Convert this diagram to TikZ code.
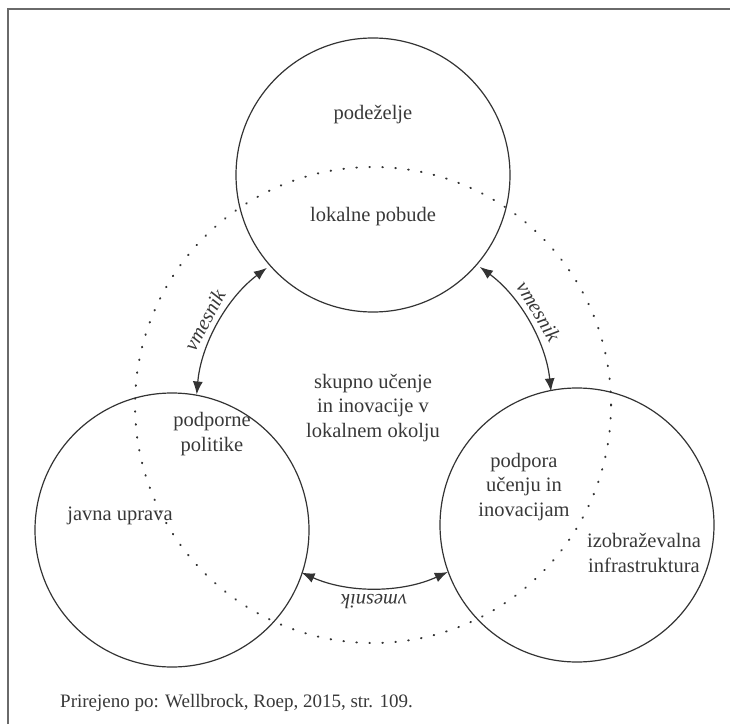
\documentclass[tikz,border=0pt]{standalone}
\usepackage{fontspec}
\setmainfont{Liberation Serif}
\usetikzlibrary{arrows.meta}
\definecolor{ink}{HTML}{333333}
\definecolor{txt}{HTML}{383838}
\definecolor{frame}{HTML}{6A6A6A}
\begin{document}
\begin{tikzpicture}[x=1pt,y=1pt,
  ring/.style={circle,draw=ink,line width=1.2pt,minimum size=274pt,inner sep=0pt},
  lbl/.style={text=txt,font=\fontsize{20.5}{24.5}\selectfont,align=center,inner sep=0pt},
  vm/.style={text=txt,font=\fontsize{20.5}{24.5}\selectfont\itshape,inner sep=0pt},
  link/.style={draw=ink,line width=1.2pt,{Latex[length=13pt,width=10pt]}-{Latex[length=13pt,width=10pt]}}]
\useasboundingbox (0,0) rectangle (730,724);
% frame (only left and top edges visible)
\draw[frame,line width=1.6pt] (8,0) -- (8,715) -- (730,715);
% dotted circle
\coordinate (mid) at (373,319);
\draw[ink,line width=2pt,line cap=round,dash pattern=on 0.6pt off 12.4pt] (mid) circle[radius=238];
% three circles
\node[ring] (top) at (373,549) {};
\node[ring] (left) at (172,194) {};
\node[ring] (right) at (577,199) {};
% texts
\node[lbl] (t1) at (373,609) {podeželje};
\node[lbl] (t2) at (373,507) {lokalne pobude};
\node[lbl] (t3) at (373,316) {skupno učenje\\in inovacije v\\lokalnem okolju};
\node[lbl] (t4) at (212,290) {podporne\\politike};
\node[lbl] (t5) at (120,208) {javna uprava};
\node[lbl] (t6) at (524,237) {podpora\\učenju in\\inovacijam};
\node[lbl] (t7) at (644,171) {izobraževalna\\infrastruktura};
\node[lbl,anchor=west,font=\fontsize{19}{23}\selectfont] (cap) at (60,21) {Prirejeno po: Wellbrock, Roep, 2015, str. 109.};
% arrows
\coordinate (ac) at (374,314);
\coordinate (aL) at ([shift={(127:178)}]ac);
\coordinate (aR) at ([shift={(6:178)}]ac);
\coordinate (aB) at ([shift={(246:178)}]ac);
\draw[link] (aL) arc[start angle=127,end angle=175,radius=178];
\draw[link] (aR) arc[start angle=6,end angle=53.5,radius=178];
\draw[link] (aB) arc[start angle=246,end angle=294.5,radius=178];
\node[vm,rotate=62] (v1) at ([shift={(152:192)}]ac) {vmesnik};
\node[vm,rotate=-59] (v2) at ([shift={(31:192)}]ac) {vmesnik};
\node[vm,rotate=180] (v3) at ([shift={(270:192)}]ac) {vmesnik};
\end{tikzpicture}
\end{document}
